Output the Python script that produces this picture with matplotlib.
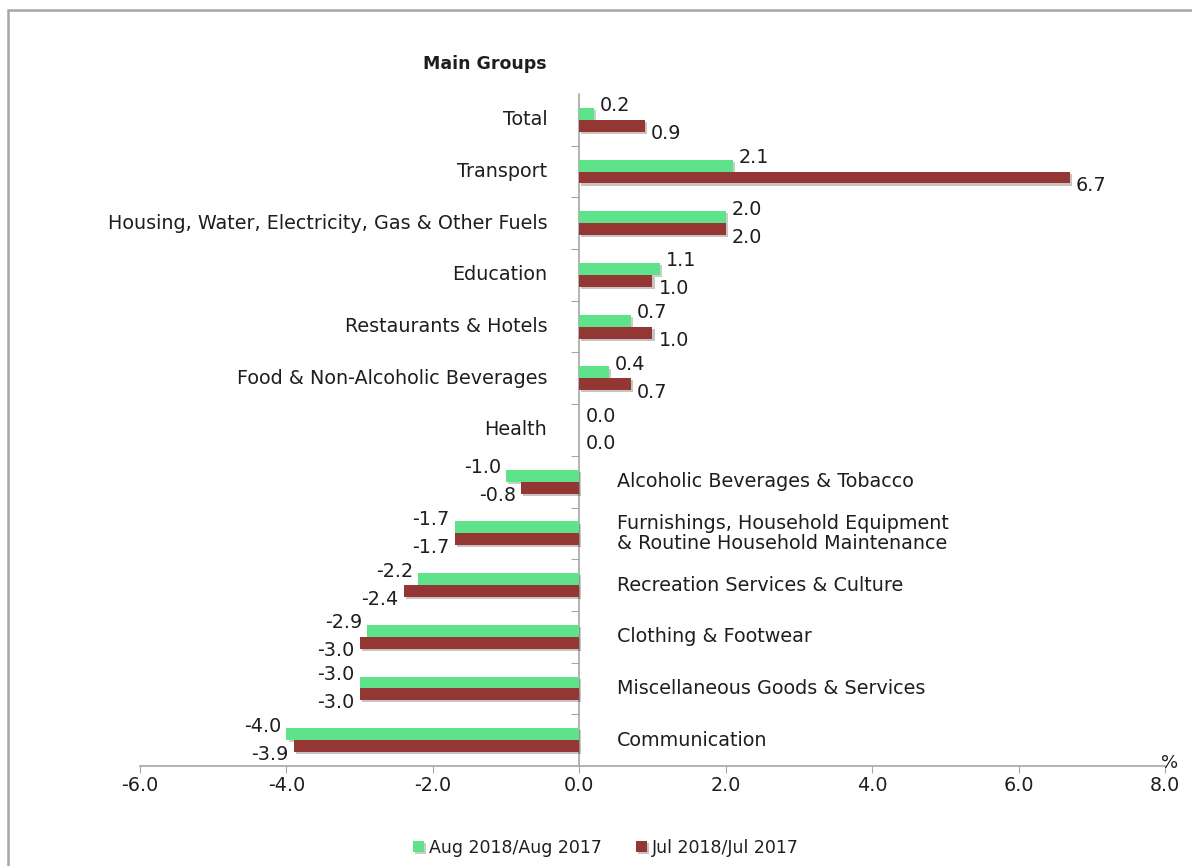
import numpy as np
import matplotlib; matplotlib.use("Agg")
import matplotlib.pyplot as plt
from matplotlib.patches import Rectangle
import matplotlib.patheffects as pe

plt.rcParams['font.family'] = ['DejaVu Sans']

groups = ["Total", "Transport", "Housing, Water, Electricity, Gas & Other Fuels",
          "Education", "Restaurants & Hotels", "Food & Non-Alcoholic Beverages",
          "Health", "Alcoholic Beverages & Tobacco",
          "Furnishings, Household Equipment\n& Routine Household Maintenance",
          "Recreation Services & Culture", "Clothing & Footwear",
          "Miscellaneous Goods & Services", "Communication"]
aug = [0.2, 2.1, 2.0, 1.1, 0.7, 0.4, 0.0, -1.0, -1.7, -2.2, -2.9, -3.0, -4.0]
jul = [0.9, 6.7, 2.0, 1.0, 1.0, 0.7, 0.0, -0.8, -1.7, -2.4, -3.0, -3.0, -3.9]
labels = ["Aug 2018/Aug 2017", "Jul 2018/Jul 2017"]
xticks = [-6, -4, -2, 0, 2, 4, 6, 8]

GREEN = "#5fe38a"
RED = "#943634"
GRAY = "#a6a6a6"
TXT = "#1e1e1e"
PX = 72 / 100  # points per pixel at dpi 100
FS = 13.8

fig = plt.figure(figsize=(11.92, 8.66), dpi=100)
ax = fig.add_axes([140/1192, 100/866, 1025/1192, 672/866])

y = np.arange(len(groups))
h = 0.23
shadow = [pe.SimplePatchShadow(offset=(1.5, -1.5), alpha=0.25), pe.Normal()]
b1 = ax.barh(y - h/2, aug, height=h, color=GREEN, label=labels[0], zorder=3)
b2 = ax.barh(y + h/2, jul, height=h, color=RED, label=labels[1], zorder=3)
for b in list(b1) + list(b2):
    b.set_path_effects(shadow)

ax.set_xlim(-6, 8)
ax.set_ylim(len(groups) - 0.5, -0.5)

ax.spines['top'].set_visible(False)
ax.spines['right'].set_visible(False)
ax.spines['left'].set_position(('data', 0))
for s in ('left', 'bottom'):
    ax.spines[s].set_color(GRAY)
    ax.spines[s].set_linewidth(1.2)

ax.set_xticks(xticks)
ax.set_xticklabels([f"{v:.1f}" for v in xticks])
ax.set_yticks(np.arange(len(groups) - 1) + 0.5)
ax.set_yticklabels([])
ax.tick_params(axis='x', direction='out', length=5, color=GRAY, labelsize=FS,
               labelcolor=TXT, pad=2)
ax.tick_params(axis='y', direction='out', length=6, color=GRAY)

# value labels
for i, (a, j) in enumerate(zip(aug, jul)):
    for v, yy, dy in ((a, i - h/2, 8), (j, i + h/2, -8)):
        dx = 6 if v >= 0 else -5
        ax.annotate(f"{v:.1f}", xy=(v, yy), xytext=(dx*PX, dy*PX), textcoords='offset points',
                    ha='left' if v >= 0 else 'right', va='center', fontsize=FS, color=TXT)

# category labels: left of axis for non-negative, right for negative
for i, g in enumerate(groups):
    if aug[i] >= 0:
        ax.annotate(g, xy=(0, i), xytext=(-32*PX, 0), textcoords='offset points',
                    ha='right', va='center', fontsize=FS, color=TXT)
    else:
        ax.annotate(g, xy=(0, i), xytext=(38*PX, 0), textcoords='offset points',
                    ha='left', va='center', fontsize=FS, color=TXT, linespacing=1.1)

fig.text(547/1192, 1 - 64/866, "Main Groups", ha='right', va='center',
         fontsize=12.5, fontweight='bold', color=TXT)
fig.text(1170/1192, 1 - 763/866, "%", ha='center', va='center', fontsize=13, color=TXT)

fig.legend(handles=[b1, b2], labels=labels, loc='center', bbox_to_anchor=(606/1192, 1 - 848/866),
           ncol=2, frameon=False, fontsize=12.5, handlelength=0.6, handleheight=0.6,
           handletextpad=0.3, columnspacing=2.0, labelcolor=TXT)

fig.patches.append(Rectangle((8/1192, -0.1), 1.2, (1 - 10/866) + 0.1, transform=fig.transFigure,
                             fill=False, edgecolor=GRAY, linewidth=1.8))

fig.savefig("out.png", dpi=100)
